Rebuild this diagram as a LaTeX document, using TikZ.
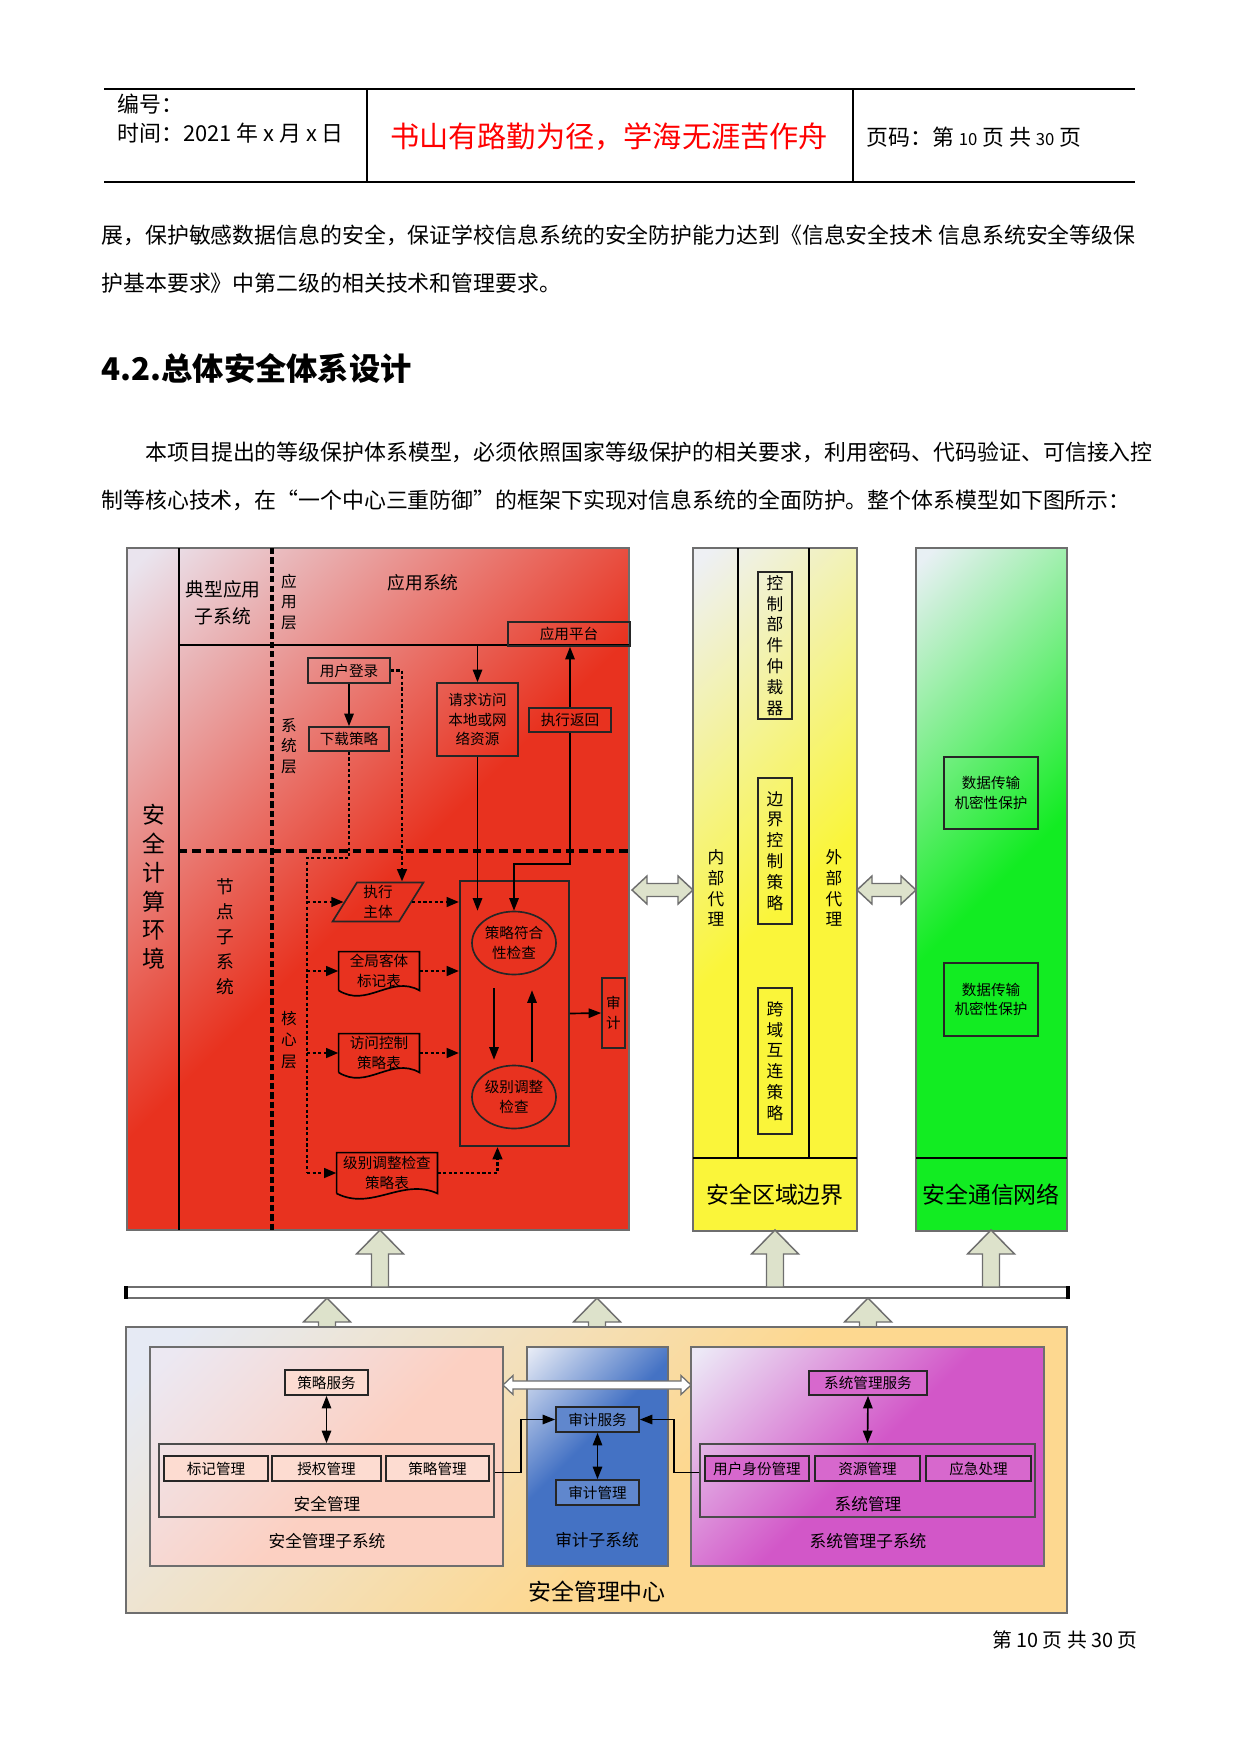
\documentclass[tikz,border=0pt]{standalone}
\usepackage{fontspec}
\setmainfont{Noto Sans CJK SC}
\usetikzlibrary{calc,positioning,fit,shapes.geometric,arrows.meta}
\definecolor{redpale}{HTML}{EAE4EE}
\definecolor{redfull}{HTML}{E8321F}
\definecolor{yelpale}{HTML}{EEF0F4}
\definecolor{yelfull}{HTML}{FAF53A}
\definecolor{grnpale}{HTML}{E8F0F4}
\definecolor{grnfull}{HTML}{12EC22}
\definecolor{orgpale}{HTML}{E6EAF4}
\definecolor{orgfull}{HTML}{FDD890}
\definecolor{pnkpale}{HTML}{ECE8F2}
\definecolor{pnkfull}{HTML}{FCD0C2}
\definecolor{blupale}{HTML}{E8ECF6}
\definecolor{blufull}{HTML}{4472C4}
\definecolor{magpale}{HTML}{ECE8F6}
\definecolor{magfull}{HTML}{D257C8}
\definecolor{fatfill}{HTML}{DDE2CB}
\definecolor{edgegray}{HTML}{6E6E6E}
\pgfdeclarehorizontalshading{redfade}{100bp}{color(0bp)=(redpale); color(16bp)=(redpale); color(50bp)=(redfull); color(100bp)=(redfull)}
\pgfdeclarehorizontalshading{yelfade}{100bp}{color(0bp)=(yelpale); color(16bp)=(yelpale); color(52bp)=(yelfull); color(100bp)=(yelfull)}
\pgfdeclarehorizontalshading{grnfade}{100bp}{color(0bp)=(grnpale); color(16bp)=(grnpale); color(50bp)=(grnfull); color(100bp)=(grnfull)}
\pgfdeclarehorizontalshading{orgfade}{100bp}{color(0bp)=(orgpale); color(18bp)=(orgpale); color(55bp)=(orgfull); color(100bp)=(orgfull)}
\pgfdeclarehorizontalshading{pnkfade}{100bp}{color(0bp)=(pnkpale); color(18bp)=(pnkpale); color(55bp)=(pnkfull); color(100bp)=(pnkfull)}
\pgfdeclarehorizontalshading{blufade}{100bp}{color(0bp)=(blupale); color(15bp)=(blupale); color(45bp)=(blufull); color(100bp)=(blufull)}
\pgfdeclarehorizontalshading{magfade}{100bp}{color(0bp)=(magpale); color(16bp)=(magpale); color(50bp)=(magfull); color(100bp)=(magfull)}

\begin{document}
\begin{tikzpicture}[x=0.4795pt, y=-0.4795pt,
    wh/.style 2 args={minimum width=#1*0.4795pt, minimum height=#2*0.4795pt},
    txt/.style={font=\fontsize{10.5}{12}\selectfont, inner sep=0pt},
    lbl/.style={font=\fontsize{7}{9.5}\selectfont, inner sep=0pt, align=center},
    vlbl/.style={font=\fontsize{7.5}{9.8}\selectfont, inner sep=0pt, align=center},
    big/.style={font=\fontsize{11}{13}\selectfont, inner sep=0pt},
    box/.style={draw=black!85, line width=0.8pt, inner sep=0pt, align=center, font=\fontsize{7}{9.5}\selectfont},
    zone/.style={draw=edgegray, line width=0.6pt, shading angle=-45},
    heavy/.style={line width=1.4pt},
    arr/.style={line width=0.8pt, -{Triangle[length=6pt,width=4.5pt]}},
    dual/.style={line width=0.8pt, {Triangle[length=6pt,width=4.5pt]}-{Triangle[length=6pt,width=4.5pt]}},
    dots/.style={line width=1.4pt, dash pattern=on 1.5pt off 1.2pt},
    dotarr/.style={dots, -{Triangle[length=6pt,width=4.5pt]}},
    fatarrow/.style={fill=fatfill, draw=edgegray, line width=0.7pt}]
\useasboundingbox (0,0) rectangle (1241,1754);

% page header
\draw[line width=0.6pt] (104,89) -- (1135,89);
\draw[line width=0.6pt] (104,182) -- (1135,182);
\draw[line width=0.6pt] (367,89) -- (367,182);
\draw[line width=0.6pt] (853,89) -- (853,182);
\node[txt, anchor=west] (serial) at (117,104) {编号：};
\node[txt, anchor=west] (date) at (117,133) {时间：2021 年 x 月 x 日};
\node[txt, text=red, font=\fontsize{14}{16}\selectfont] (motto) at (609,137) {书山有路勤为径，学海无涯苦作舟};
\node[txt, anchor=west] (pageno) at (866,137) {页码：第 {\fontsize{8}{10}\selectfont 10} 页\ 共 {\fontsize{8}{10}\selectfont 30} 页};

% running text
\node[txt, anchor=west] (line1) at (101,235) {展，保护敏感数据信息的安全，保证学校信息系统的安全防护能力达到《信息安全技术 信息系统安全等级保};
\node[txt, anchor=west] (line2) at (101,283) {护基本要求》中第二级的相关技术和管理要求。};
\node[txt, anchor=west, font=\fontsize{15}{18}\selectfont\bfseries] (heading) at (101,369) {4.2.总体安全体系设计};
\node[txt, anchor=west] (line3) at (145,452) {本项目提出的等级保护体系模型，必须依照国家等级保护的相关要求，利用密码、代码验证、可信接入控};
\node[txt, anchor=west] (line4) at (101,500) {制等核心技术，在“一个中心三重防御”的框架下实现对信息系统的全面防护。整个体系模型如下图所示：};
\node[txt, anchor=east, font=\fontsize{9.5}{11}\selectfont] (footer) at (1138,1640) {第 10 页\ 共 30 页};

% red zone: computing environment
\shadedraw[zone, shading=redfade] (127,548) rectangle (629,1230);
\draw[heavy] (179,548) -- (179,1230);
\draw[line width=1.8pt, dash pattern=on 3pt off 1.5pt] (272,548) -- (272,1230);
\coordinate (appL) at (179,645);
\coordinate (appR) at (629,645);
\draw[heavy] (appL) -- (appR);
\draw[line width=1.6pt, dash pattern=on 4pt off 2.4pt] (179,851) -- (629,851);
\node[big, align=center, font=\fontsize{11}{13.8}\selectfont] (envlbl) at (154,887) {安\\全\\计\\算\\环\\境};
\node[lbl, font=\fontsize{9}{13}\selectfont] (typlbl) at (223,603) {典型应用\\子系统};
\node[vlbl] (applayer) at (289,602) {应\\用\\层};
\node[lbl, font=\fontsize{8.5}{10}\selectfont] (appsys) at (423,583) {应用系统};
\node[vlbl] (syslayer) at (289,746) {系\\统\\层};
\node[lbl, font=\fontsize{8.5}{12}\selectfont] (nodelbl) at (225,937) {节\\点\\子\\系\\统};
\node[vlbl, font=\fontsize{7.5}{10.5}\selectfont] (corelayer) at (289,1040) {核\\心\\层};

\node[box, wh={122}{24}] (plat) at (569,634) {应用平台};
\node[box, wh={82}{25}] (login) at (349,670.5) {用户登录};
\node[box, wh={80}{24}] (policy) at (349,739) {下载策略};
\node[box, wh={81}{73}] (req) at (477.5,719.5) {请求访问\\本地或网\\络资源};
\node[box, wh={82}{24}] (ret) at (570,720) {执行返回};
\node[box, wh={109}{265}] (check) at (514.5,1013.5) {};
\node[box, ellipse, wh={84}{63}] (chk1) at (514,943) {策略符合\\性检查};
\node[box, ellipse, wh={84}{63}] (chk2) at (514,1097) {级别调整\\检查};
\node[box, wh={23}{70}] (audit) at (613.5,1013) {审\\计};
\node[box, trapezium, trapezium left angle=63, trapezium right angle=117, trapezium stretches=true, wh={91}{39}] (exec) at (378,902) {执行\\主体};
\node[lbl, wh={80}{38}] (objtab) at (379,971) {全局客体\\标记表};
\node[lbl, wh={80}{38}] (acltab) at (379,1053) {访问控制\\策略表};
\node[lbl, wh={100}{40}] (lvltab) at (387,1173) {级别调整检查\\策略表};
\foreach \d in {objtab,acltab,lvltab}
  \draw[line width=0.8pt] (\d.south west) -- (\d.north west) -- (\d.north east) -- (\d.south east)
    .. controls ($(\d.south east)!0.35!(\d.south west)+(0,-16)$) and ($(\d.south east)!0.65!(\d.south west)+(0,18)$) .. (\d.south west);

\draw[arr] (login.south) -- (policy.north);
\draw[arr] (req.north |- appL) -- (req.north);
\draw[arr] (ret.north) -- (ret.north |- plat.south);
\draw[arr] (ret.south) -- ++(0,131) -| (chk1.north);
\draw[arr] (req.south) -- (req.south |- chk1.north);
\draw[arr] ($(chk1.south)+(-20,13)$) -- ($(chk2.north)+(-20,-5)$);
\draw[arr] ($(chk2.north)+(18,-3)$) -- ($(chk1.south)+(18,15)$);
\draw[arr] (check.east) -- (audit.west);

\draw[dotarr] (login.east) -| ($(exec.north)+(24,0)$);
\coordinate (spineT) at (307,858);
\draw[dots] (policy.south) |- (spineT) -- (spineT |- lvltab.west);
\foreach \n in {exec,objtab,acltab,lvltab}
  \draw[dotarr] (spineT |- \n.west) -- (\n.west);
\foreach \n in {exec,objtab,acltab}
  \draw[dotarr] (\n.east) -- (\n.east -| check.west);
\draw[dotarr] (lvltab.east) -| ($(check.south)+(-17,0)$);

% yellow zone: area boundary
\shadedraw[zone, shading=yelfade] (693,548) rectangle (857,1231);
\draw[heavy] (738,548) -- (738,1158);
\draw[heavy] (809,548) -- (809,1158);
\draw[heavy] (693,1158) -- (857,1158);
\node[box, wh={34}{147}, font=\fontsize{8}{10}\selectfont] (arbiter) at (775,645.5) {控\\制\\部\\件\\仲\\裁\\器};
\node[box, wh={34}{146}, font=\fontsize{8}{10}\selectfont] (bndpol) at (775,851) {边\\界\\控\\制\\策\\略};
\node[box, wh={34}{146}, font=\fontsize{8}{10}\selectfont] (xdompol) at (775,1061) {跨\\域\\互\\连\\策\\略};
\node[vlbl, font=\fontsize{8}{10}\selectfont] (inproxy) at (716,888) {内\\部\\代\\理};
\node[vlbl, font=\fontsize{8}{10}\selectfont] (outproxy) at (834,888) {外\\部\\代\\理};
\node[big] (bndlbl) at (775,1195) {安全区域边界};

% green zone: communication network
\shadedraw[zone, shading=grnfade] (916,548) rectangle (1067,1231);
\draw[heavy] (916,1158) -- (1067,1158);
\node[box, wh={94}{72}] (crypt1) at (991,793) {数据传输\\机密性保护};
\node[box, wh={94}{73}] (crypt2) at (991,999.5) {数据传输\\机密性保护};
\node[big] (netlbl) at (991,1195) {安全通信网络};

% hollow double arrows between zones
\foreach \xa/\xb in {632/693, 857/916}
  \filldraw[fatarrow] (\xa,890) -- (\xa+15,876) -- (\xa+15,883.5) -- (\xb-15,883.5) -- (\xb-15,876) -- (\xb,890)
    -- (\xb-15,904) -- (\xb-15,896.5) -- (\xa+15,896.5) -- (\xa+15,904) -- cycle;

% bus
\draw[draw=edgegray, fill=white, line width=0.6pt] (126,1287) rectangle (1068,1298);
\draw[line width=2pt] (126,1286) -- (126,1299);
\draw[line width=2pt] (1068,1286) -- (1068,1299);
\foreach \x/\yt/\yb in {380/1230/1287, 775/1230/1287, 991/1230/1287, 327/1298/1347, 597/1298/1347, 868/1298/1347}
  \filldraw[fatarrow] (\x-8.5,\yb) -- (\x-8.5,\yt+24) -- (\x-23.5,\yt+24) -- (\x,\yt) -- (\x+23.5,\yt+24)
    -- (\x+8.5,\yt+24) -- (\x+8.5,\yb) -- cycle;

% management centre
\shadedraw[zone, shading=orgfade] (126,1327) rectangle (1067,1613);
\node[big] (centerlbl) at (597,1592) {安全管理中心};
\shadedraw[zone, shading=pnkfade] (150,1347) rectangle (503,1566);
\shadedraw[zone, shading=blufade] (527,1347) rectangle (668,1566);
\shadedraw[zone, shading=magfade] (691,1347) rectangle (1044,1566);
\filldraw[fill=white, draw=edgegray, line width=0.6pt] (503,1385) -- (513,1375.5) -- (513,1381) -- (681,1381) -- (681,1375.5)
  -- (691,1385) -- (681,1394.5) -- (681,1389) -- (513,1389) -- (513,1394.5) -- cycle;

\node[box, fill=pnkfull!75, wh={83}{25}] (polsvc) at (326.5,1382.5) {策略服务};
\node[box, draw=black!70, wh={335}{73}] (secin) at (326.5,1480.5) {};
\node[box, fill=pnkfull!75, wh={104}{25}] (markmg) at (216,1468.5) {标记管理};
\node[box, fill=pnkfull!75, wh={109}{25}] (authmg) at (326.5,1468.5) {授权管理};
\node[box, fill=pnkfull!75, wh={103}{25}] (polmg) at (437.5,1468.5) {策略管理};
\node[lbl, font=\fontsize{8}{10}\selectfont] (seclbl) at (327,1504) {安全管理};
\node[lbl, font=\fontsize{8}{10}\selectfont] (secsub) at (327,1541) {安全管理子系统};
\draw[dual] (polsvc.south) -- (secin.north);

\node[box, fill=blufull!85, wh={83}{25}] (audsvc) at (597.5,1419.5) {审计服务};
\node[box, fill=blufull!85, wh={83}{25}] (audmg) at (597.5,1492.5) {审计管理};
\node[lbl, font=\fontsize{8}{10}\selectfont] (audsub) at (597,1540) {审计子系统};
\draw[dual] (audsvc.south) -- (audmg.north);

\node[box, fill=magfull!90, wh={118}{24}] (syssvc) at (868,1383) {系统管理服务};
\node[box, draw=black!70, wh={335}{73}] (sysin) at (867.5,1480.5) {};
\node[box, fill=magfull!90, wh={104}{25}] (usermg) at (757,1468.5) {用户身份管理};
\node[box, fill=magfull!90, wh={105}{25}] (resmg) at (867.5,1468.5) {资源管理};
\node[box, fill=magfull!90, wh={105}{25}] (emerg) at (978.5,1468.5) {应急处理};
\node[lbl, font=\fontsize{8}{10}\selectfont] (syslbl) at (868,1504) {系统管理};
\node[lbl, font=\fontsize{8}{10}\selectfont] (syssub) at (868,1541) {系统管理子系统};
\draw[dual] (syssvc.south) -- (sysin.north);

\draw[arr] ($(secin.east)+(0,-8)$) -- ++(26,0) |- (audsvc.west);
\draw[arr] ($(sysin.west)+(0,-8)$) -- ++(-25,0) |- (audsvc.east);
\end{tikzpicture}
\end{document}
